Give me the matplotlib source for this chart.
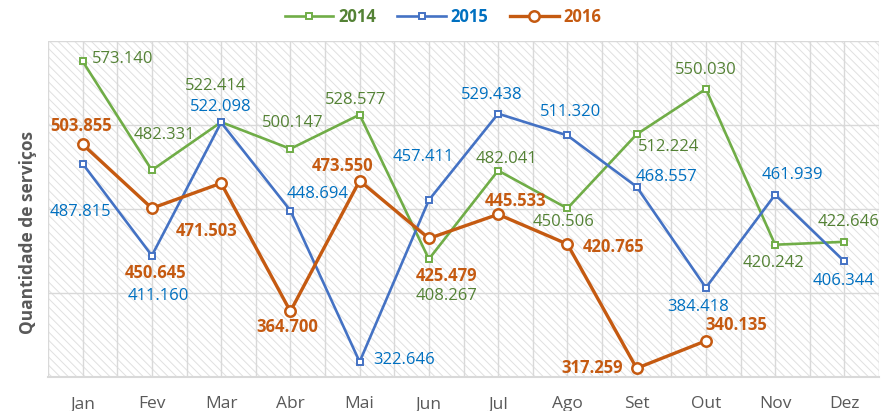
import numpy as np
import matplotlib
matplotlib.use("Agg")
import matplotlib.pyplot as plt
from matplotlib.patches import Rectangle

months = ["Jan", "Fev", "Mar", "Abr", "Mai", "Jun", "Jul", "Ago", "Set", "Out", "Nov", "Dez"]
v2014 = [573.140, 482.331, 522.414, 500.147, 528.577, 408.267, 482.041, 450.506, 512.224, 550.030, 420.242, 422.646]
v2015 = [487.815, 411.160, 522.098, 448.694, 322.646, 457.411, 529.438, 511.320, 468.557, 384.418, 461.939, 406.344]
v2016 = [503.855, 450.645, 471.503, 364.700, 473.550, 425.479, 445.533, 420.765, 317.259, 340.135, None, None]
labels2014 = ["573.140", "482.331", "522.414", "500.147", "528.577", "408.267", "482.041", "450.506", "512.224", "550.030", "420.242", "422.646"]
labels2015 = ["487.815", "411.160", "522.098", "448.694", "322.646", "457.411", "529.438", "511.320", "468.557", "384.418", "461.939", "406.344"]
labels2016 = ["503.855", "450.645", "471.503", "364.700", "473.550", "425.479", "445.533", "420.765", "317.259", "340.135", None, None]

# label offsets (pixels, image direction: +y downward)
off2014 = [(40, -2), (12, -35), (-5, -36), (2, -26), (-4, -15), (18, 37), (8, -12), (-4, 14), (32, 13), (0, -19), (-2, 18), (4, -20)]
off2015 = [(-2, 48), (6, 40), (0, -15), (27, -17), (45, -2), (-6, -43), (-6, -19), (3, -23), (30, -10), (-8, 19), (17, -20), (-1, 20)]
off2016 = [(-2, -18), (4, 65), (-14, 48), (-3, 16), (-17, -15), (18, 38), (17, -13), (46, 3), (-44, 0), (30, -16), None, None]

C14, T14 = "#70AD47", "#548235"
C15, T15 = "#4472C4", "#0070C0"
C16, T16 = "#C55A11", "#C55A11"
GRID = "#D9D9D9"
FONT = "Open Sans"

plt.rcParams["font.family"] = [FONT, "DejaVu Sans"]
plt.rcParams["hatch.linewidth"] = 0.7

fig = plt.figure(figsize=(8.81, 4.11), dpi=100)
ax = fig.add_axes([48/881, 1-377/411, (879-48)/881, (377-41)/411])

x = np.arange(len(months))
ax.set_xlim(-0.5, 11.5)
ax.set_ylim(310, 590)

# hatched background
bg = Rectangle((0, 0), 1, 1, transform=ax.transAxes, facecolor="white",
               edgecolor="#E0E0E0", hatch="\\\\\\\\", linewidth=0, zorder=0)
ax.add_patch(bg)

# gridlines
ax.set_xticks(x)
ax.set_xticks(np.arange(-0.5, 12, 1.0), minor=True)
ax.set_yticks([310, 380, 450, 520, 590])
ax.grid(True, which="both", axis="x", color=GRID, linewidth=1.0, zorder=1)
ax.grid(True, which="major", axis="y", color=GRID, linewidth=1.0, zorder=1)
ax.set_axisbelow(True)
for s in ["top", "right", "left"]:
    ax.spines[s].set_visible(False)
ax.spines["bottom"].set_color(GRID)
ax.spines["bottom"].set_linewidth(1.5)
ax.tick_params(axis="both", which="both", length=0)
ax.set_yticklabels([])
ax.set_xticklabels(months, fontsize=12.5, color="#595959")
ax.tick_params(axis="x", pad=14)

def arr(v):
    return np.array([np.nan if a is None else a for a in v], dtype=float)

l14, = ax.plot(x, arr(v2014), color=C14, lw=1.9, marker="s", ms=4.2, mfc="white",
               mec=C14, mew=1.4, zorder=3, label="2014")
l15, = ax.plot(x, arr(v2015), color=C15, lw=1.9, marker="s", ms=4.2, mfc="white",
               mec=C15, mew=1.4, zorder=4, label="2015")
l16, = ax.plot(x, arr(v2016), color=C16, lw=2.4, marker="o", ms=7.5, mfc="white",
               mec=C16, mew=1.8, zorder=5, label="2016")

def put_labels(vals, labs, offs, color, weight):
    for i, (v, t, o) in enumerate(zip(vals, labs, offs)):
        if v is None:
            continue
        ax.annotate(t, (x[i], v), xytext=(o[0], -o[1]), textcoords="offset pixels",
                    ha="center", va="center", fontsize=12, color=color,
                    fontweight=weight, zorder=6, annotation_clip=False)

put_labels(v2014, labels2014, off2014, T14, "normal")
put_labels(v2015, labels2015, off2015, T15, "normal")
put_labels(v2016, labels2016, off2016, T16, "bold")

ax.set_ylabel("Quantidade de serviços", fontsize=12.5, fontweight="bold", color="#595959")
ax.yaxis.set_label_coords(-11/831, 0.43)

leg = fig.legend(handles=[l14, l15, l16], loc="center", bbox_to_anchor=(443/881, 1-17/411),
                 ncol=3, frameon=False, handlelength=2.9, handletextpad=0.3,
                 columnspacing=1.3, prop={"family": FONT, "weight": "bold", "size": 12})
for txt, c in zip(leg.get_texts(), [T14, T15, T16]):
    txt.set_color(c)

fig.savefig("out.png", dpi=100)
